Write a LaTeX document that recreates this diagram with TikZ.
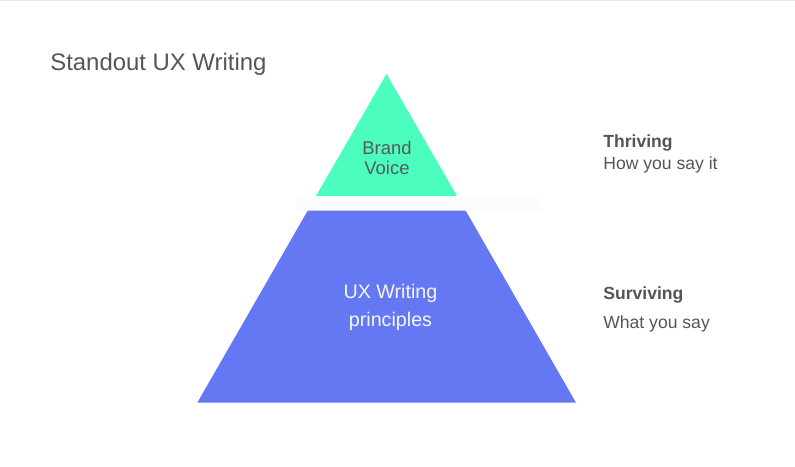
\documentclass[tikz,border=0pt]{standalone}
\usepackage{fontspec}
\setmainfont{Liberation Sans}
\definecolor{voicegreen}{HTML}{4BFEBD}
\definecolor{uxblue}{HTML}{6478F4}
\definecolor{textgray}{HTML}{555555}
\begin{document}
\begin{tikzpicture}[
    label text/.style={text=textgray, inner sep=0pt},
    side title/.style={label text, anchor=base west, font=\fontsize{10}{12}\selectfont\bfseries},
    side text/.style={label text, anchor=base west, font=\fontsize{10}{12}\selectfont}
]
    % Canvas
    \useasboundingbox (0,0) rectangle (15.9,9.32);
    \fill[white] (0,0) rectangle (15.9,9.32);
    \draw[black!8, line width=0.02cm] (0,9.31) -- (15.9,9.31);

    % Title
    \node[label text, anchor=base west, font=\fontsize{13.6}{16}\selectfont] (title) at (1.0,7.906) {Standout UX Writing};

    % Top of the pyramid - Brand Voice
    \fill[voicegreen] (7.73,7.84) -- (9.14,5.40) -- (6.32,5.40) -- cycle;
    \node[label text, anchor=base, font=\fontsize{10.5}{12}\selectfont, text=black!65] (brand) at (7.74,6.22) {Brand};
    \node[label text, anchor=base, font=\fontsize{10.5}{12}\selectfont, text=black!65] (voice) at (7.74,5.82) {Voice};

    % Gap between the layers
    \fill[black!1] (5.92,5.106) rectangle (10.82,5.366);

    % Base of the pyramid - UX Writing principles
    \fill[uxblue] (6.154,5.106) -- (9.314,5.106) -- (11.52,1.266) -- (3.946,1.266) -- cycle;
    \node[inner sep=0pt, anchor=base, font=\fontsize{11.2}{13}\selectfont, text=white!94!uxblue] (uxwriting) at (7.81,3.34) {UX Writing};
    \node[inner sep=0pt, anchor=base, font=\fontsize{11.2}{13}\selectfont, text=white!94!uxblue] (principles) at (7.81,2.786) {principles};

    % Side notes
    \node[side title] (thriving) at (12.06,6.374) {Thriving};
    \node[side text] (howsay) at (12.06,5.934) {How you say it};
    \node[side title] (surviving) at (12.06,3.334) {Surviving};
    \node[side text] (whatsay) at (12.06,2.754) {What you say};
\end{tikzpicture}
\end{document}
